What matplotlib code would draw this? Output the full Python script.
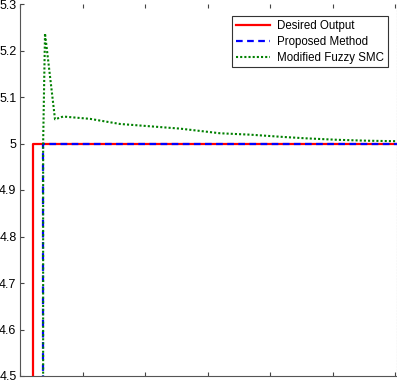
import matplotlib
matplotlib.use("Agg")
import matplotlib.pyplot as plt

# Data
desired_x = [0.21, 0.21, 7.0]
desired_y = [4.4, 5.0, 5.0]
proposed_x = [0.37, 0.37, 7.0]
proposed_y = [4.4, 5.0, 5.0]
fuzzy_x = [0.37, 0.37, 0.40, 0.56, 0.69, 1.12, 1.6, 2.08, 2.56, 3.2, 3.68, 4.22, 4.59, 5.07, 5.55, 5.98, 7.0]
fuzzy_y = [4.4, 5.0, 5.237, 5.052, 5.058, 5.053, 5.042, 5.037, 5.032, 5.022, 5.019, 5.014, 5.011, 5.008, 5.006, 5.005, 5.004]
y_ticks = [4.5, 4.6, 4.7, 4.8, 4.9, 5.0, 5.1, 5.2, 5.3]
y_labels = ["4.5", "4.6", "4.7", "4.8", "4.9", "5", "5.1", "5.2", "5.3"]
x_ticks = [0, 1, 2, 3, 4, 5, 6]

fig = plt.figure(figsize=(3.97, 3.81), dpi=100)
ax = fig.add_axes([20/397, 5/381, 377/397, 372/381])
ax.plot(desired_x, desired_y, color="red", lw=1.6, label="Desired Output")
ax.plot(proposed_x, proposed_y, color="blue", lw=1.6, ls=(0, (3, 2)), label="Proposed Method")
ax.plot(fuzzy_x, fuzzy_y, color="#008000", lw=1.5, ls=(0, (1, 1)), label="Modified Fuzzy SMC")
ax.set_xlim(0, 6.03)
ax.set_ylim(4.5, 5.3)
ax.set_yticks(y_ticks)
ax.set_yticklabels(y_labels, fontsize=9, family="Liberation Sans")
ax.set_xticks(x_ticks)
ax.set_xticklabels([])
ax.tick_params(direction="in", length=3, color="#444444", top=True, right=False, pad=2.5)
for s in ["left", "bottom"]:
    ax.spines[s].set_color("#555555")
ax.spines["top"].set_visible(False)
ax.spines["right"].set_color("#999999")
ax.spines["right"].set_linestyle(":")
leg = ax.legend(loc="upper right", bbox_to_anchor=(0.975, 0.967), prop={"family": "Liberation Sans", "size": 8.3},
                fancybox=False, framealpha=1, edgecolor="#333333", handlelength=3.0,
                borderpad=0.3, labelspacing=0.35, handletextpad=0.6, borderaxespad=0)
leg.get_frame().set_linewidth(0.8)
fig.savefig("out.png", dpi=100)
